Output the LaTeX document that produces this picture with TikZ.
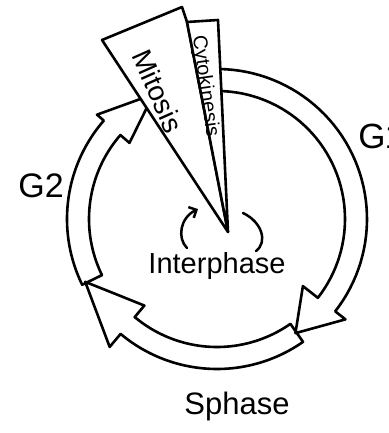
\documentclass[tikz,border=0pt]{standalone}
\usepackage{fontspec}
\setmainfont{Liberation Sans}
\usetikzlibrary{arrows.meta}
\newcommand\Ro{150}
\newcommand\Ri{128}
% #1 start angle, #2 end angle, #3 tip angle, #4 tip radius, #5 outer flare, #6 inner flare
\newcommand\cyclearrow[6]{%
  \draw[band] (#1:\Ri) -- plot[domain=#1:#2, samples=50] (\x:\Ro)
     -- (#2:{\Ro+#5}) -- (#3:#4) -- (#2:{\Ri-#6})
     -- plot[domain=#2:#1, samples=50] (\x:\Ri) -- cycle;}
\begin{document}
\begin{tikzpicture}[x=1pt,y=-1pt, line width=2.6pt, line join=round, line cap=round,
  band/.style={draw=black, fill=white},
  wedge/.style={draw=black, fill=white},
  lbl/.style={inner sep=0pt, text=black},
  curl/.style={line width=2.5pt}]
\useasboundingbox (0,0) rectangle (388,433);
\clip (0,0) rectangle (388,433);
% ring of arrows
\begin{scope}[shift={(217,219)}]
  \cyclearrow{154}{221}{243}{140}{9}{12}   % G2
  \cyclearrow{55}{130}{154.5}{146}{17}{15} % S phase
  \cyclearrow{-92}{38}{55.5}{138.5}{13}{19} % G1
\end{scope}
% wedges
\coordinate (tip) at (228,232);
\coordinate (mA) at (102,40);
\coordinate (mB) at (182,7);
\coordinate (cA) at (187,22);
\coordinate (cB) at (218,20);
\draw[wedge] (tip) -- (mA) -- (mB) -- (cA) -- cycle;
\draw[wedge] (tip) -- (cA) -- (cB) -- cycle;
% labels
\node[lbl, rotate=-66, font=\fontsize{28}{30}\selectfont] (mit) at (158,91) {Mitosis};
\node[lbl, rotate=-82, font=\fontsize{20}{22}\selectfont] (cyto) at (205,86) {Cytokinesis};
\node[lbl, anchor=base, font=\fontsize{29}{32}\selectfont] (inter) at (217,273) {Interphase};
\node[lbl, anchor=base, font=\fontsize{34}{36}\selectfont] (gtwo) at (41,197) {G2};
\node[lbl, anchor=base west, font=\fontsize{35}{36}\selectfont] (gone) at (357,148) {G\kern-1pt 1};
\node[lbl, anchor=base, font=\fontsize{31}{34}\selectfont] (sph) at (237,414) {Sphase};
% interphase curls
\coordinate (l0) at (187,248);
\coordinate (l1) at (198,209);
\coordinate (r0) at (243,213);
\coordinate (r1) at (256,251);
\draw[curl, -{Straight Barb[length=6pt,width=12pt]}] (l0) .. controls (177,238) and (180,218) .. (l1);
\draw[curl] (r0) .. controls (262,222) and (268,242) .. (r1);
\end{tikzpicture}
\end{document}
